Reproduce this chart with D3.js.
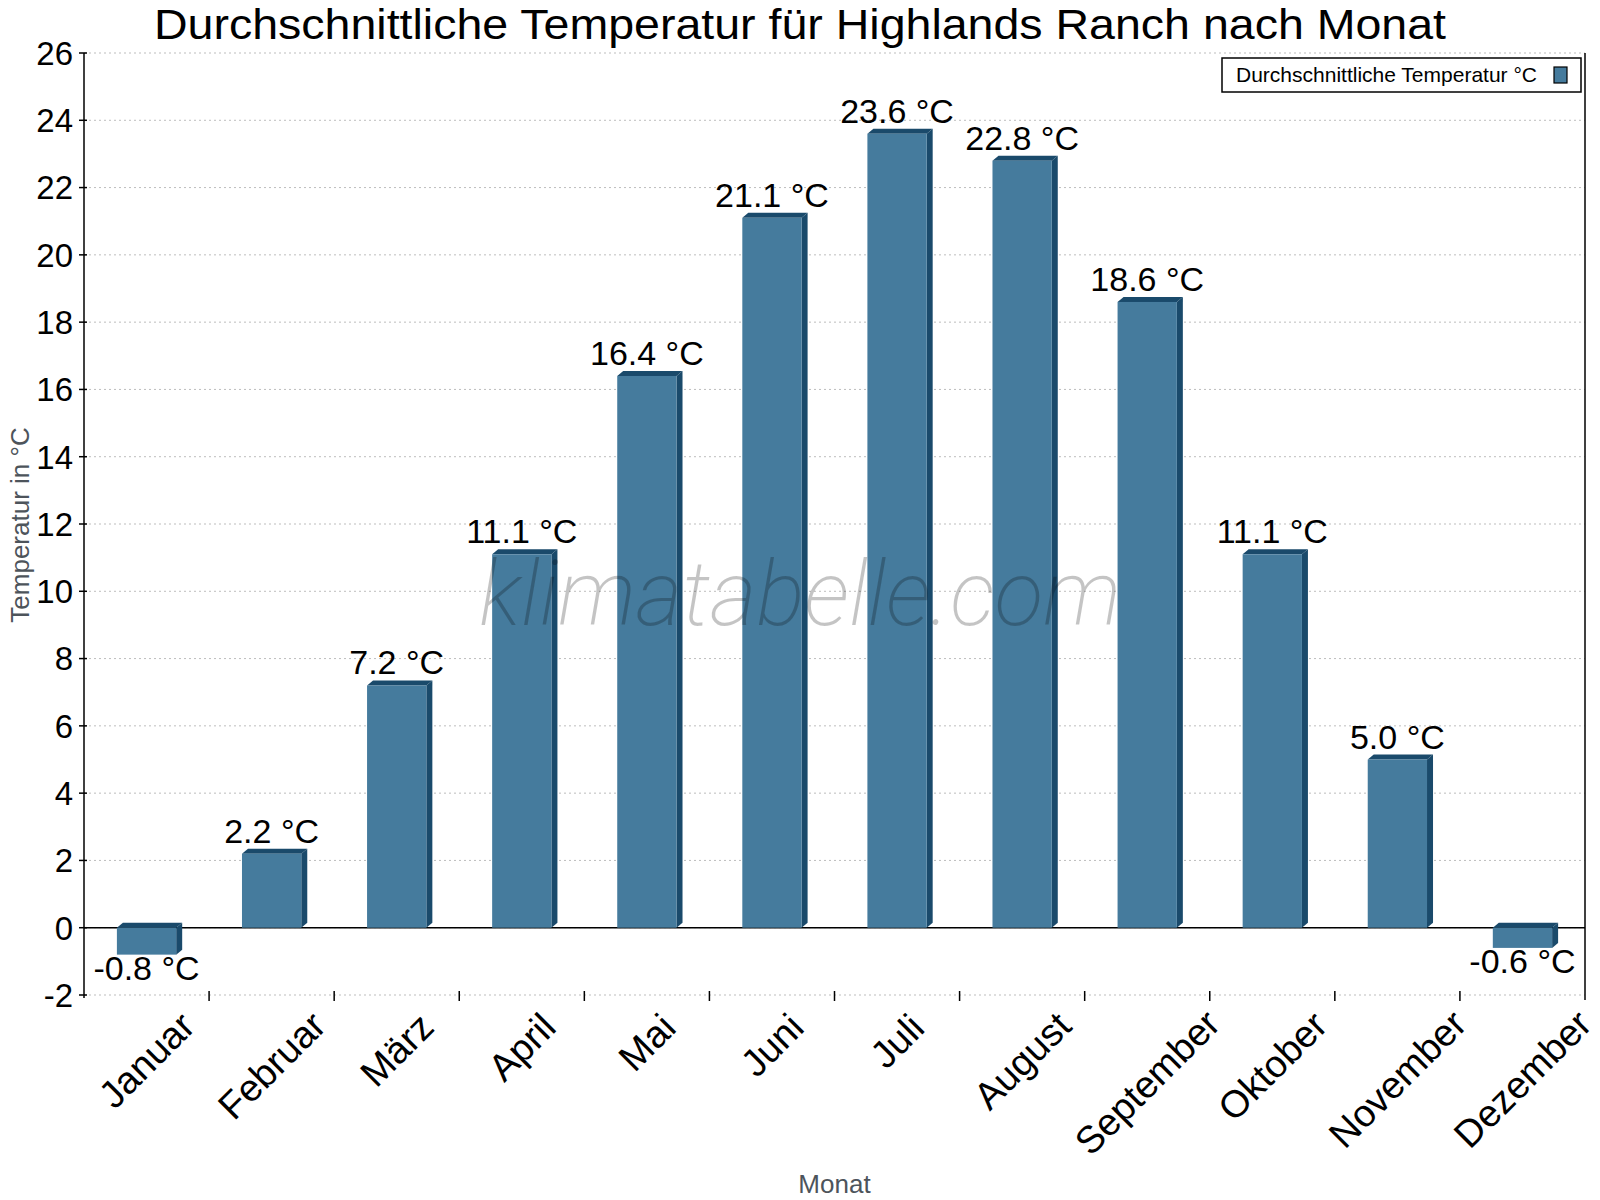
<!DOCTYPE html>
<html>
<head>
<meta charset="utf-8">
<script src="https://cdn.jsdelivr.net/npm/d3@7"></script>
<style>
    body { margin: 0; background: #fff; }
    svg text { font-family: "Liberation Sans", Arial, sans-serif; }
</style>
</head>
<body>
<div id="chart"></div>
<script>
const months = ["Januar", "Februar", "März", "April", "Mai", "Juni", "Juli", "August", "September", "Oktober", "November", "Dezember"];
const temps = [-0.8, 2.2, 7.2, 11.1, 16.4, 21.1, 23.6, 22.8, 18.6, 11.1, 5.0, -0.6];
const yTicks = [-2, 0, 2, 4, 6, 8, 10, 12, 14, 16, 18, 20, 22, 24, 26];

const width = 1600, height = 1200;
const margin = {top: 53, right: 15, bottom: 205, left: 84};

const front = "#457b9d", dark = "#1a4a6b";
const depthX = 6, depthY = 5;

let svg = d3.select("#chart").append("svg")
    .attr("width", width)
    .attr("height", height);

const x = d3.scaleBand()
    .domain(months)
    .range([margin.left, width - margin.right])
    .paddingInner(0);

const y = d3.scaleLinear()
    .domain([-2, 26])
    .range([height - margin.bottom, margin.top]);

const x0 = margin.left, x1 = width - margin.right;

// title
svg.append("text")
    .attr("x", width / 2)
    .attr("y", 39)
    .attr("text-anchor", "middle")
    .attr("font-size", 43)
    .attr("textLength", 1292)
    .attr("lengthAdjust", "spacingAndGlyphs")
    .attr("fill", "#000")
    .text("Durchschnittliche Temperatur für Highlands Ranch nach Monat");

// grid
svg.append("g").selectAll("line").data(yTicks).enter()
    .append("line")
    .attr("x1", x0).attr("x2", x1)
    .attr("y1", d => y(d)).attr("y2", d => y(d))
    .attr("stroke", "#bdbdbd")
    .attr("stroke-width", 1)
    .attr("stroke-dasharray", "2,3");

// zero line
svg.append("line")
    .attr("x1", x0).attr("x2", x1)
    .attr("y1", y(0)).attr("y2", y(0))
    .attr("stroke", "#000")
    .attr("stroke-width", 1.5);

// axis lines
svg.append("line")
    .attr("x1", x0).attr("x2", x0)
    .attr("y1", y(26)).attr("y2", y(-2) + 3)
    .attr("stroke", "#000").attr("stroke-width", 1.5);
svg.append("line")
    .attr("x1", x1).attr("x2", x1)
    .attr("y1", y(26)).attr("y2", y(-2) + 5)
    .attr("stroke", "#000").attr("stroke-width", 1.5);

// y ticks + labels
let yAxis = svg.append("g");
yAxis.selectAll(".ytick").data(yTicks).enter()
    .append("line")
    .attr("class", "ytick")
    .attr("x1", x0 - 5).attr("x2", x0 + 3)
    .attr("y1", d => y(d)).attr("y2", d => y(d))
    .attr("stroke", "#000").attr("stroke-width", 1.5);
yAxis.selectAll(".ylabel").data(yTicks).enter()
    .append("text")
    .attr("class", "ylabel")
    .attr("x", 73)
    .attr("y", d => y(d))
    .attr("dy", "0.36em")
    .attr("text-anchor", "end")
    .attr("font-size", 33)
    .text(d => d);

// x ticks at band boundaries
svg.append("g").selectAll("line").data(months.slice(1)).enter()
    .append("line")
    .attr("x1", d => x(d)).attr("x2", d => x(d))
    .attr("y1", y(-2) - 4).attr("y2", y(-2) + 6)
    .attr("stroke", "#000").attr("stroke-width", 1.5);

// 3D bars
const barW = x.bandwidth() * 0.474;
let bars = svg.append("g").selectAll("g").data(temps).enter().append("g");

bars.each(function (d, i) {
    let g = d3.select(this);
    let cx = x(months[i]) + x.bandwidth() / 2;
    let left = cx - barW / 2, right = cx + barW / 2;
    let top = Math.min(y(d), y(0)), bottom = Math.max(y(d), y(0));

    // side face
    g.append("path")
        .attr("d", `M${right},${top} L${right + depthX},${top - depthY} L${right + depthX},${bottom - depthY} L${right},${bottom} Z`)
        .attr("fill", dark);
    // top face
    g.append("path")
        .attr("d", `M${left},${top} L${left + depthX},${top - depthY} L${right + depthX},${top - depthY} L${right},${top} Z`)
        .attr("fill", dark);
    // front face
    g.append("rect")
        .attr("x", left).attr("y", top)
        .attr("width", barW).attr("height", bottom - top)
        .attr("fill", front);
});

// watermark
svg.append("text")
    .attr("x", width / 2)
    .attr("y", 625)
    .attr("text-anchor", "middle")
    .style("font-family", "Roboto, sans-serif")
    .attr("font-style", "italic")
    .attr("font-weight", 200)
    .attr("font-size", 90)
    .attr("fill", "rgba(0,0,0,0.23)")
    .text("klimatabelle.com");

// value labels
svg.append("g").selectAll("text").data(temps).enter()
    .append("text")
    .attr("x", (d, i) => x(months[i]) + x.bandwidth() / 2)
    .attr("y", d => d >= 0 ? y(d) - 11 : y(d) + 25)
    .attr("text-anchor", "middle")
    .attr("font-size", 34)
    .text(d => d.toFixed(1) + " °C");

// x labels, rotated -45
let xl = svg.append("g").selectAll("text").data(months).enter()
    .append("text")
    .attr("text-anchor", "middle")
    .attr("dy", "0.35em")
    .attr("font-size", 38)
    .text(d => d);

xl.each(function (d) {
    let L = this.getComputedTextLength();
    let cx = x(d) + x.bandwidth() / 2;
    let cy = 1041 + 0.32 * (L - 57);
    d3.select(this)
        .attr("x", cx).attr("y", cy)
        .attr("transform", `rotate(-45, ${cx}, ${cy})`);
});

// axis titles
svg.append("text")
    .attr("x", (x0 + x1) / 2)
    .attr("y", 1193)
    .attr("text-anchor", "middle")
    .attr("font-size", 26)
    .attr("fill", "#4d545b")
    .text("Monat");

svg.append("text")
    .attr("transform", "translate(29, 525) rotate(-90)")
    .attr("text-anchor", "middle")
    .attr("font-size", 26)
    .attr("fill", "#4d545b")
    .text("Temperatur in °C");

// legend
let legend = svg.append("g");
legend.append("rect")
    .attr("x", 1222).attr("y", 58)
    .attr("width", 359).attr("height", 34)
    .attr("fill", "#fff")
    .attr("stroke", "#000").attr("stroke-width", 1.5);
legend.append("text")
    .attr("x", 1236).attr("y", 82)
    .attr("font-size", 21)
    .text("Durchschnittliche Temperatur °C");
legend.append("rect")
    .attr("x", 1554).attr("y", 67)
    .attr("width", 13).attr("height", 16)
    .attr("fill", front)
    .attr("stroke", "#000").attr("stroke-width", 1.2);
</script>
</body>
</html>
